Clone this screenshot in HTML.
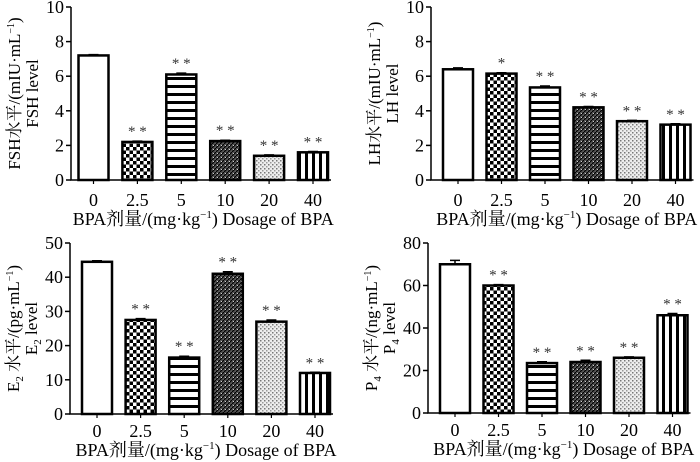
<!DOCTYPE html>
<html><head><meta charset="utf-8"><style>
html,body{margin:0;padding:0;background:#fff;}
svg{display:block;font-family:"Liberation Serif","Noto Serif CJK SC",serif;}
</style></head><body>
<svg id="c" width="700" height="462" viewBox="0 0 700 462">
<defs>
<pattern id="p-check" width="7" height="7" patternUnits="userSpaceOnUse"><rect width="7" height="7" fill="#fff"/><rect width="3.5" height="3.5" fill="#000"/><rect x="3.5" y="3.5" width="3.5" height="3.5" fill="#000"/></pattern>
<pattern id="p-hstripe" width="8" height="8" patternUnits="userSpaceOnUse"><rect width="8" height="8" fill="#fff"/><rect y="5" width="8" height="3" fill="#000"/></pattern>
<pattern id="p-diag" width="4" height="4" patternUnits="userSpaceOnUse"><rect width="4" height="4" fill="#555"/><path d="M0 4 L4 0" stroke="#000" stroke-width="1.2"/><rect x="1" y="1" width="1" height="1" fill="#ccc"/></pattern>
<pattern id="p-dot" width="4" height="4" patternUnits="userSpaceOnUse"><rect width="4" height="4" fill="#eee"/><rect x="0" y="0" width="1.5" height="1.5" fill="#777"/><rect x="2" y="2" width="1.5" height="1.5" fill="#999"/></pattern>
<pattern id="p-vstripe" width="7" height="8" patternUnits="userSpaceOnUse"><rect width="7" height="8" fill="#fff"/><rect x="4" width="3" height="8" fill="#000"/></pattern>
</defs>
</svg>
<script>
const categories = ["0","2.5","5","10","20","40"];
const fshValues = [7.2, 2.2, 6.1, 2.25, 1.4, 1.6];
const fshErrors = [0.05, 0.05, 0.08, 0.05, 0.05, 0.05];
const fshStars = ["", "**", "**", "**", "**", "**"];
const lhValues = [6.4, 6.15, 5.35, 4.2, 3.4, 3.2];
const lhErrors = [0.08, 0.05, 0.08, 0.05, 0.05, 0.05];
const lhStars = ["", "*", "**", "**", "**", "**"];
const e2Values = [44.5, 27.5, 16.5, 41, 27, 12];
const e2Errors = [0.3, 0.4, 0.4, 0.6, 0.5, 0.2];
const e2Stars = ["", "**", "**", "**", "**", "**"];
const p4Values = [70, 60, 23.5, 24, 26, 46];
const p4Errors = [1.8, 0.4, 0.6, 0.8, 0.4, 0.8];
const p4Stars = ["", "**", "**", "**", "**", "**"];
const fshTicks = [0,2,4,6,8,10];
const lhTicks = [0,2,4,6,8,10];
const e2Ticks = [0,10,20,30,40,50];
const p4Ticks = [0,20,40,60,80];

const fills = ["#fff","url(#p-check)","url(#p-hstripe)","url(#p-diag)","url(#p-dot)","url(#p-vstripe)"];
const NS = "http://www.w3.org/2000/svg";
const svg = document.getElementById("c");
function mk(tag, attrs, parent) {
  const e = document.createElementNS(NS, tag);
  for (const k in attrs) e.setAttribute(k, attrs[k]);
  (parent || svg).appendChild(e);
  return e;
}
function panel(cfg) {
  const g = mk("g", {});
  
  
  const max = cfg.ticks[cfg.ticks.length - 1];
  const y = v => cfg.yBot - (v / max) * (cfg.yBot - cfg.yTop);
  const x = i => cfg.x0 + i * cfg.dx;
  cfg.values.forEach((v, i) => {
    const r = mk("rect", {x: x(i) - 15, y: y(v), width: 30, height: cfg.yBot - y(v), fill: fills[i], stroke: "#000", "stroke-width": 2.5}, g);
    
    
    const et = y(v + cfg.errors[i]);
    const eb = mk("path", {d: `M${x(i)} ${y(v)} V${et} M${x(i)-5} ${et} H${x(i)+5}`, stroke: "#000", "stroke-width": 1.5, fill: "none"}, g);
    
    
    if (cfg.stars[i]) {
      const t = mk("text", {x: x(i), y: et - 5, "text-anchor": "middle", "font-size": 15, fill: "#333"}, g);
      t.textContent = cfg.stars[i].split("").join("  ");
      
      
    }
    const tk = mk("line", {x1: x(i), x2: x(i), y1: cfg.yBot, y2: cfg.yBot + 4, stroke: "#000", "stroke-width": 1.2}, g);
    
    
    const tl = mk("text", {x: x(i), y: cfg.yBot + cfg.lblOff, "text-anchor": "middle", "font-size": 18}, g);
    tl.textContent = categories[i];
    
    
  });
  const ax = mk("path", {d: `M${cfg.ax} ${cfg.yTop} V${cfg.yBot} H${cfg.x0 + 5*cfg.dx + 18}`, stroke: "#000", "stroke-width": 1.5, fill: "none"}, g);
  
  
  cfg.ticks.forEach(t => {
    const l = mk("line", {x1: cfg.ax - 5, x2: cfg.ax, y1: y(t), y2: y(t), stroke: "#000", "stroke-width": 1.5}, g);
    
    
    const tl = mk("text", {x: cfg.ax - 7, y: y(t) + 6, "text-anchor": "end", "font-size": 18}, g);
    tl.textContent = t;
    
    
  });
  const mid = (cfg.yTop + cfg.yBot) / 2;
  const t1 = mk("text", {x: 0, y: 0, "text-anchor": "middle", "font-size": 17, transform: `translate(${cfg.ax - 51},${mid}) rotate(-90)`}, g);
  t1.innerHTML = cfg.title1;
  
  
  const t2 = mk("text", {x: 0, y: 0, "text-anchor": "middle", "font-size": 17, transform: `translate(${cfg.ax - 33},${mid}) rotate(-90)`}, g);
  t2.innerHTML = cfg.title2;
  
  
  const xt = mk("text", {x: cfg.x0 + 2.5*cfg.dx, y: cfg.yBot + cfg.titleOff, "text-anchor": "middle", "font-size": 18}, g);
  xt.innerHTML = 'BPA剂量/(mg·kg<tspan dy="-7" font-size="11">−1</tspan><tspan dy="7">)  Dosage of BPA</tspan>';
  xt.setAttribute('xml:space', 'preserve');
  
  
}
panel({name:"fsh", ax:71, yTop:7, yBot:180, x0:93.5, dx:43.9, lblOff:26, titleOff:45, ticks:fshTicks, values:fshValues, errors:fshErrors, stars:fshStars,
  title1:'FSH水平/(mIU·mL<tspan dy="-6" font-size="10">−1</tspan><tspan dy="6">)</tspan>', title2:'FSH level'});
panel({name:"lh", ax:431, yTop:7, yBot:180, x0:458, dx:43.5, lblOff:26, titleOff:45, ticks:lhTicks, values:lhValues, errors:lhErrors, stars:lhStars,
  title1:'LH水平/(mIU·mL<tspan dy="-6" font-size="10">−1</tspan><tspan dy="6">)</tspan>', title2:'LH level'});
panel({name:"e2", ax:70, yTop:243, yBot:414, x0:97, dx:43.6, lblOff:23, titleOff:42, ticks:e2Ticks, values:e2Values, errors:e2Errors, stars:e2Stars,
  title1:'E<tspan dy="4" font-size="11">2</tspan><tspan dy="-4"> 水平/(pg·mL</tspan><tspan dy="-6" font-size="10">−1</tspan><tspan dy="6">)</tspan>', title2:'E<tspan dy="4" font-size="11">2</tspan><tspan dy="-4"> level</tspan>'});
panel({name:"p4", ax:428, yTop:243, yBot:413, x0:455, dx:43.5, lblOff:23, titleOff:42, ticks:p4Ticks, values:p4Values, errors:p4Errors, stars:p4Stars,
  title1:'P<tspan dy="4" font-size="11">4</tspan><tspan dy="-4"> 水平/(ng·mL</tspan><tspan dy="-6" font-size="10">−1</tspan><tspan dy="6">)</tspan>', title2:'P<tspan dy="4" font-size="11">4</tspan><tspan dy="-4"> level</tspan>'});
</script>
</body></html>
